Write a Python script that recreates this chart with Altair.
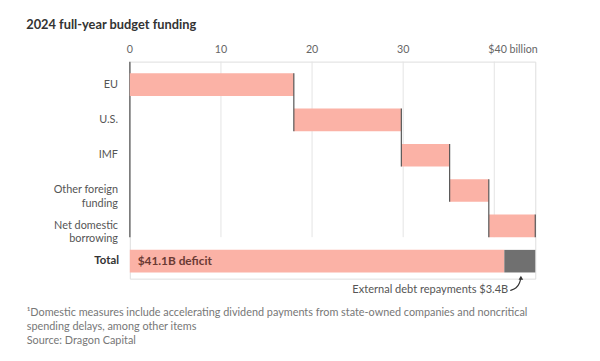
import altair as alt
import pandas as pd

# ---- data ----
categories = ["EU", "U.S.", "IMF", "Other foreign\nfunding", "Net domestic\nborrowing"]
amounts = [18.0, 11.8, 5.3, 4.3, 5.1]          # $ billion
deficit = 41.1
ext_debt = 3.4
ticks = [0, 10, 20, 30, 40]
tick_labels = ["0", "10", "20", "30", "$40 billion"]
title_text = "2024 full-year budget funding"
footnotes = [
    "\u00b9Domestic measures include accelerating dividend payments from state-owned companies and noncritical",
    "spending delays, among other items",
    "Source: Dragon Capital",
]
annotation = "External debt repayments $3.4B"
# arrow path (x in $bn, y in rows)
arrow_x = [41.75, 42.45, 42.80, 42.92]
arrow_y = [5.83, 5.77, 5.62, 5.47]

PINK = "#fbb2a6"
GREY = "#707070"
FONT = "Lato"
HALF = 0.32

# ---- tables ----
starts, ends = [], []
acc = 0.0
for a in amounts:
    starts.append(acc)
    acc += a
    ends.append(round(acc, 2))
n = len(categories)
bars = pd.DataFrame({
    "cat": categories, "row": list(range(n)),
    "x0": starts, "x1": ends,
})
bars["y0"] = bars["row"] - HALF
bars["y1"] = bars["row"] + HALF

conn = pd.DataFrame({
    "x": ends,
    "y0": [i - HALF for i in range(n)],
    "y1": [min(i + 1, n - 1) + HALF for i in range(n)],
})

total = pd.DataFrame({
    "x0": [0, deficit], "x1": [deficit, deficit + ext_debt],
    "part": ["deficit", "ext"],
    "y0": [n - HALF] * 2, "y1": [n + HALF] * 2,
})

GRID_TOP = -0.65
GRID_BOTTOM = 4.32
grid = pd.DataFrame({"x": ticks, "lab": tick_labels,
                     "y0": [GRID_TOP] * len(ticks), "y1": [GRID_BOTTOM] * len(ticks)})

xs = alt.Scale(domain=[0, 44.5], nice=False, zero=False)
ys = alt.Scale(domain=[-0.65, 5.495], reverse=True, nice=False, zero=False)
X = lambda f: alt.X(f, type="quantitative", scale=xs, axis=None)
Y = lambda f: alt.Y(f, type="quantitative", scale=ys, axis=None)

gridlines = alt.Chart(grid[grid.x > 0]).mark_rule(color="#e4e4e4", strokeWidth=1).encode(
    x=X("x"), y=Y("y0"), y2="y1"
)

axisline = alt.Chart(grid[grid.x == 0]).mark_rule(color="#707070", strokeWidth=1.5).encode(
    x=X("x"), y=Y("y0"), y2="y1"
)

tick_text = alt.Chart(grid[grid.x < 40]).mark_text(
    font=FONT, fontSize=10.8, color="#666", baseline="middle", align="center"
).encode(x=X("x"), y=alt.value(-12), text="lab:N")

tick_last = alt.Chart(grid[grid.x == 40]).mark_text(
    font=FONT, fontSize=10.8, color="#666", baseline="middle", align="left", dx=-6
).encode(x=X("x"), y=alt.value(-12), text="lab:N")

bar_marks = alt.Chart(bars).mark_rect(color=PINK).encode(
    x=X("x0"), x2="x1", y=Y("y0"), y2="y1"
)

conn_marks = alt.Chart(conn).mark_rule(color="#555", strokeWidth=1.2).encode(
    x=X("x"), y=Y("y0"), y2="y1"
)

cat_labels = alt.Chart(bars).mark_text(
    font=FONT, fontSize=11, color="#555", align="right", baseline="middle",
    lineBreak="\n", lineHeight=13.5
).encode(
    x=alt.value(-12), y=Y("row"), text="cat:N"
)

total_marks = alt.Chart(total).mark_rect().encode(
    x=X("x0"), x2="x1", y=Y("y0"), y2="y1",
    color=alt.Color("part:N", scale=alt.Scale(domain=["deficit", "ext"], range=[PINK, GREY]), legend=None),
)

total_lab = alt.Chart(pd.DataFrame({"row": [n], "t": ["Total"]})).mark_text(
    font=FONT, fontSize=11.5, fontWeight="bold", color="#333", align="right", baseline="middle"
).encode(x=alt.value(-11), y=Y("row"), text="t:N")

deficit_lab = alt.Chart(pd.DataFrame({"row": [n], "x": [0], "t": [f"${deficit}B deficit"]})).mark_text(
    font=FONT, fontSize=12, fontWeight="bold", color="#6a3a33", align="left", baseline="middle", dx=8
).encode(x=X("x"), y=Y("row"), text="t:N")

ann = alt.Chart(pd.DataFrame({"x": [arrow_x[0]], "y": [arrow_y[0]], "t": [annotation]})).mark_text(
    font=FONT, fontSize=11.2, color="#555", align="right", baseline="middle", dx=-2
).encode(x=X("x"), y=Y("y"), text="t:N")

arrow_df = pd.DataFrame({"x": arrow_x, "y": arrow_y, "o": list(range(len(arrow_x)))})
arrow_line = alt.Chart(arrow_df).mark_line(color="#333", strokeWidth=1.2, interpolate="basis").encode(
    x=X("x"), y=Y("y"), order="o:O"
)
arrow_head = alt.Chart(arrow_df.tail(1)).mark_point(
    shape="triangle-up", filled=True, color="#333", size=22, opacity=1, dy=-2
).encode(x=X("x"), y=Y("y"))

title = alt.Chart(pd.DataFrame({"t": [title_text]})).mark_text(
    font=FONT, fontSize=13, fontWeight="bold", color="#333", align="left", baseline="middle"
).encode(x=alt.value(-105), y=alt.value(-37), text="t:N")

foot_layers = []
for i, line in enumerate(footnotes):
    foot_layers.append(
        alt.Chart(pd.DataFrame({"t": [line]})).mark_text(
            font=FONT, fontSize=11, color="#777", align="left", baseline="middle"
        ).encode(x=alt.value(-104.5), y=alt.value(255 + 14 * i), text="t:N")
    )

chart = alt.layer(
    gridlines, axisline, tick_text, tick_last, bar_marks, conn_marks, cat_labels,
    total_marks, total_lab, deficit_lab, ann, arrow_line, arrow_head, title, *foot_layers
).properties(
    width=411, height=220,
    autosize=alt.AutoSizeParams(type="none"),
    padding={"left": 123.5, "top": 52, "right": 57.5, "bottom": 73},
).configure_view(stroke=None).configure(background="white")

chart.save("out.html", embed_options={"renderer": "svg", "actions": False})
